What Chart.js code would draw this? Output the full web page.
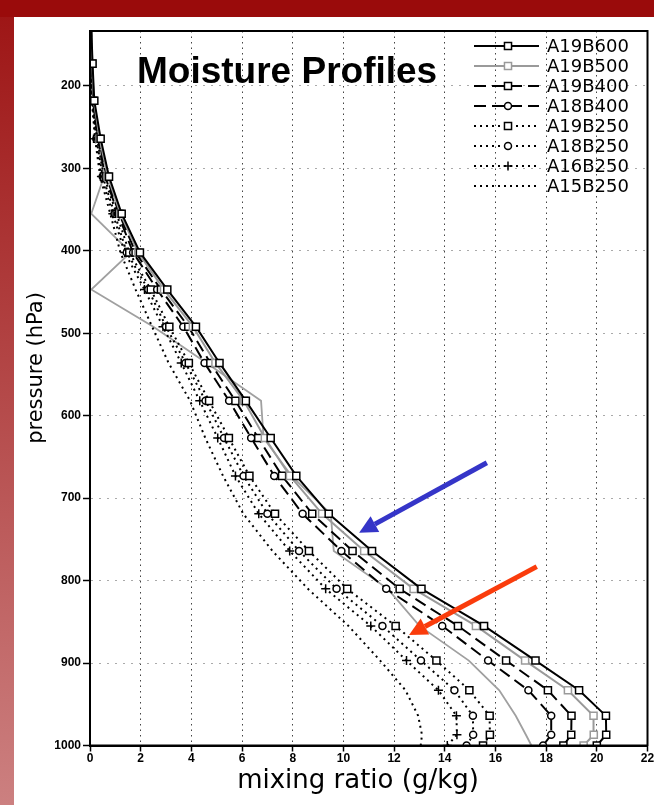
<!DOCTYPE html>
<html>
<head>
<meta charset="utf-8">
<script src="https://cdn.jsdelivr.net/npm/chart.js@4.4.0/dist/chart.umd.min.js"></script>
<style>
  html, body { margin: 0; padding: 0; }
  body {
    width: 654px; height: 805px; overflow: hidden;
    background:
      linear-gradient(#9a0b0b, #9a0b0b) top left / 654px 17px no-repeat,
      linear-gradient(to bottom, #9d1414, #cc8080) top left / 14px 805px no-repeat,
      #fff;
  }
  #wrap { position: relative; width: 654px; height: 805px; }
  canvas { position: absolute; left: 0; top: 0; }
</style>
</head>
<body>
<div id="wrap"><canvas id="moist" width="654" height="805"></canvas></div>
<script>
// pressure levels (hPa), bottom to top
const levels = [1000, 987, 964, 933, 897, 855, 810, 764, 719, 673, 627, 582, 536, 492, 447, 402, 355, 310, 264, 218, 173, 128];

// mixing ratio (g/kg) per run
const a19b600 = [20.0, 20.37, 20.36, 19.3, 17.58, 15.55, 13.08, 11.13, 9.42, 8.14, 7.13, 6.15, 5.11, 4.18, 3.05, 1.97, 1.25, 0.75, 0.42, 0.17, 0.1, 0.05];
const a19b500 = [19.48, 19.88, 19.87, 18.86, 17.17, 15.23, 12.77, 10.82, 9.16, 7.89, 6.9, 6.07, 4.95, 4.06, 2.92, 1.9, 1.2, 0.7, 0.38, 0.15, 0.09, 0.05];
const a19b400 = [18.68, 18.99, 19.0, 18.07, 16.42, 14.52, 12.22, 10.36, 8.77, 7.58, 6.64, 5.74, 4.75, 3.88, 2.8, 1.8, 1.15, 0.65, 0.35, 0.13, 0.08, 0.04];
const a18b400 = [17.88, 18.2, 18.2, 17.3, 15.71, 13.9, 11.69, 9.92, 8.39, 7.27, 6.36, 5.49, 4.52, 3.68, 2.65, 1.7, 1.1, 0.6, 0.32, 0.12, 0.07, 0.04];
const a19b250 = [15.51, 15.78, 15.77, 14.97, 13.67, 12.06, 10.15, 8.64, 7.3, 6.29, 5.48, 4.7, 3.9, 3.13, 2.4, 1.55, 1.05, 0.55, 0.28, 0.1, 0.06, 0.03];
const a18b250 = [14.86, 15.12, 15.11, 14.38, 13.06, 11.54, 9.73, 8.25, 7.0, 6.06, 5.29, 4.56, 3.77, 3.0, 2.3, 1.45, 0.97, 0.5, 0.25, 0.09, 0.05, 0.03];
const a16b250 = [14.1, 14.48, 14.46, 13.75, 12.49, 11.08, 9.3, 7.88, 6.66, 5.74, 5.04, 4.33, 3.6, 2.88, 2.15, 1.37, 0.9, 0.45, 0.22, 0.08, 0.05, 0.03];
const a15b250 = [13.05, 13.1, 12.95, 12.45, 11.45, 10.2, 8.6, 7.2, 6.05, 5.25, 4.55, 3.95, 3.1, 2.45, 1.8, 1.2, 0.8, 0.4, 0.2, 0.07, 0.04, 0.02];
// unlabelled grey profile
const greyProfile = [17.42, 17.2, 16.8, 16.15, 14.95, 13.0, 11.75, 9.62, 9.5, 7.95, 6.85, 6.75, 4.6, 2.5, 0.05, 1.6, 0.05, 0.55, 0.3, 0.1, 0.06, 0.03];

const xTicks = [0, 2, 4, 6, 8, 10, 12, 14, 16, 18, 20, 22];
const yTicks = [200, 300, 400, 500, 600, 700, 800, 900, 1000];

// arrows as [x, p] tail -> head
const arrows = [
  { from: [15.66, 657], to: [10.62, 742], color: '#3535c8' },
  { from: [17.63, 783], to: [12.59, 866], color: '#fa3c0c' }
];

function pts(vals) {
  return vals.map((v, i) => ({ x: v, y: levels[i] }));
}

function run(label, vals, color, dash, pointStyle, radius) {
  return {
    label: label,
    data: pts(vals),
    showLine: true,
    borderColor: color,
    borderWidth: 2,
    borderDash: dash,
    pointStyle: pointStyle || 'circle',
    pointRadius: pointStyle ? radius : 0,
    pointBorderColor: color,
    pointBackgroundColor: '#fff',
    pointBorderWidth: 1.5,
    inLegend: true
  };
}

const dashed = [12, 6];
const dotted = [2, 4];

let datasets = [
  run('A19B600', a19b600, '#000', [], 'rect', 5),
  run('A19B500', a19b500, '#9a9a9a', [], 'rect', 5),
  run('A19B400', a19b400, '#000', dashed, 'rect', 5),
  run('A18B400', a18b400, '#000', dashed, 'circle', 3.5),
  run('A19B250', a19b250, '#000', dotted, 'rect', 5),
  run('A18B250', a18b250, '#000', dotted, 'circle', 3.5),
  run('A16B250', a16b250, '#000', dotted, 'cross', 4.5),
  run('A15B250', a15b250, '#000', dotted, null, 0)
];
let grey = run('grey', greyProfile, '#a0a0a0', [], null, 0);
grey.borderWidth = 1.8;
grey.inLegend = false;
datasets.push(grey);

const decor = {
  id: 'decor',
  afterDraw(chart) {
    const ctx = chart.ctx;
    const a = chart.chartArea;
    const xs = chart.scales.x, ys = chart.scales.y;

    // plot frame
    ctx.save();
    ctx.strokeStyle = '#000';
    ctx.lineWidth = 2;
    ctx.strokeRect(a.left, a.top, a.right - a.left, a.bottom - a.top);
    ctx.restore();

    // title
    ctx.save();
    ctx.fillStyle = '#000';
    ctx.font = 'bold 37px "Liberation Sans", Arial, sans-serif';
    ctx.textBaseline = 'alphabetic';
    ctx.textAlign = 'left';
    ctx.fillText('Moisture Profiles', 137, 83);
    ctx.restore();

    // legend
    chart.data.datasets.forEach((ds, i) => {
      if (!ds.inLegend) return;
      const y = 46 + 20 * i;
      ctx.save();
      ctx.strokeStyle = ds.borderColor;
      ctx.lineWidth = ds.borderWidth;
      ctx.setLineDash(ds.borderDash);
      ctx.beginPath();
      ctx.moveTo(474, y);
      ctx.lineTo(539, y);
      ctx.stroke();
      ctx.setLineDash([]);
      if (ds.pointRadius > 0) {
        ctx.fillStyle = ds.pointBackgroundColor;
        ctx.strokeStyle = ds.pointBorderColor;
        ctx.lineWidth = ds.pointBorderWidth;
        Chart.helpers.drawPoint(ctx, { pointStyle: ds.pointStyle, radius: ds.pointRadius, rotation: 0, borderWidth: ds.pointBorderWidth }, 508, y);
      }
      ctx.fillStyle = '#000';
      ctx.font = '18px "DejaVu Sans", sans-serif';
      ctx.textBaseline = 'middle';
      ctx.textAlign = 'left';
      ctx.fillText(ds.label, 547, y + 1);
      ctx.restore();
    });

    // axis titles
    ctx.save();
    ctx.fillStyle = '#000';
    ctx.textAlign = 'center';
    ctx.textBaseline = 'middle';
    ctx.font = '26px "DejaVu Sans", sans-serif';
    ctx.fillText('mixing ratio (g/kg)', 358, 781);
    ctx.font = '21px "DejaVu Sans", sans-serif';
    ctx.translate(37, 368);
    ctx.rotate(-Math.PI / 2);
    ctx.fillText('pressure (hPa)', 0, 0);
    ctx.restore();

    // arrows
    arrows.forEach(ar => {
      const x1 = xs.getPixelForValue(ar.from[0]), y1 = ys.getPixelForValue(ar.from[1]);
      const x2 = xs.getPixelForValue(ar.to[0]), y2 = ys.getPixelForValue(ar.to[1]);
      const ang = Math.atan2(y2 - y1, x2 - x1);
      const headLen = 18, headW = 9;
      const bx = x2 - headLen * Math.cos(ang), by = y2 - headLen * Math.sin(ang);
      ctx.save();
      ctx.strokeStyle = ar.color;
      ctx.fillStyle = ar.color;
      ctx.lineWidth = 5;
      ctx.beginPath();
      ctx.moveTo(x1, y1);
      ctx.lineTo(bx, by);
      ctx.stroke();
      ctx.beginPath();
      ctx.moveTo(x2, y2);
      ctx.lineTo(bx + headW * Math.sin(ang), by - headW * Math.cos(ang));
      ctx.lineTo(bx - headW * Math.sin(ang), by + headW * Math.cos(ang));
      ctx.closePath();
      ctx.fill();
      ctx.restore();
    });
  }
};

const tickFont = { family: '"Liberation Sans", Arial, sans-serif', size: 12, weight: 'bold' };

new Chart(document.getElementById('moist'), {
  type: 'scatter',
  data: { datasets: datasets },
  options: {
    responsive: false,
    animation: false,
    layout: { padding: { top: 31, right: 5, left: 0, bottom: 0 } },
    plugins: { legend: { display: false }, tooltip: { enabled: false } },
    scales: {
      x: {
        type: 'linear', min: 0, max: 22, position: 'bottom',
        afterBuildTicks: s => { s.ticks = xTicks.map(v => ({ value: v })); },
        afterFit: s => { s.height = 59.5; s.paddingLeft = 0; s.paddingRight = 0; },
        ticks: { autoSkip: false, maxRotation: 0, padding: 0, color: '#000', font: tickFont, callback: v => String(v) },
        grid: { color: '#444', lineWidth: 1, tickLength: 6, tickColor: '#000', tickWidth: 1.5 },
        border: { color: '#000', width: 2, dash: [1.5, 4] }
      },
      y: {
        type: 'linear', min: 133.4, max: 1000, reverse: true,
        afterBuildTicks: s => { s.ticks = yTicks.map(v => ({ value: v })); },
        afterFit: s => { s.width = 90; s.paddingTop = 0; s.paddingBottom = 0; },
        ticks: { autoSkip: false, padding: 2, color: '#000', font: tickFont, callback: v => String(v) },
        grid: { color: '#aaa', lineWidth: 1, tickLength: 7, tickColor: '#000', tickWidth: 1.5 },
        border: { color: '#000', width: 2, dash: [2, 6] }
      }
    }
  },
  plugins: [decor]
});
</script>
</body>
</html>
